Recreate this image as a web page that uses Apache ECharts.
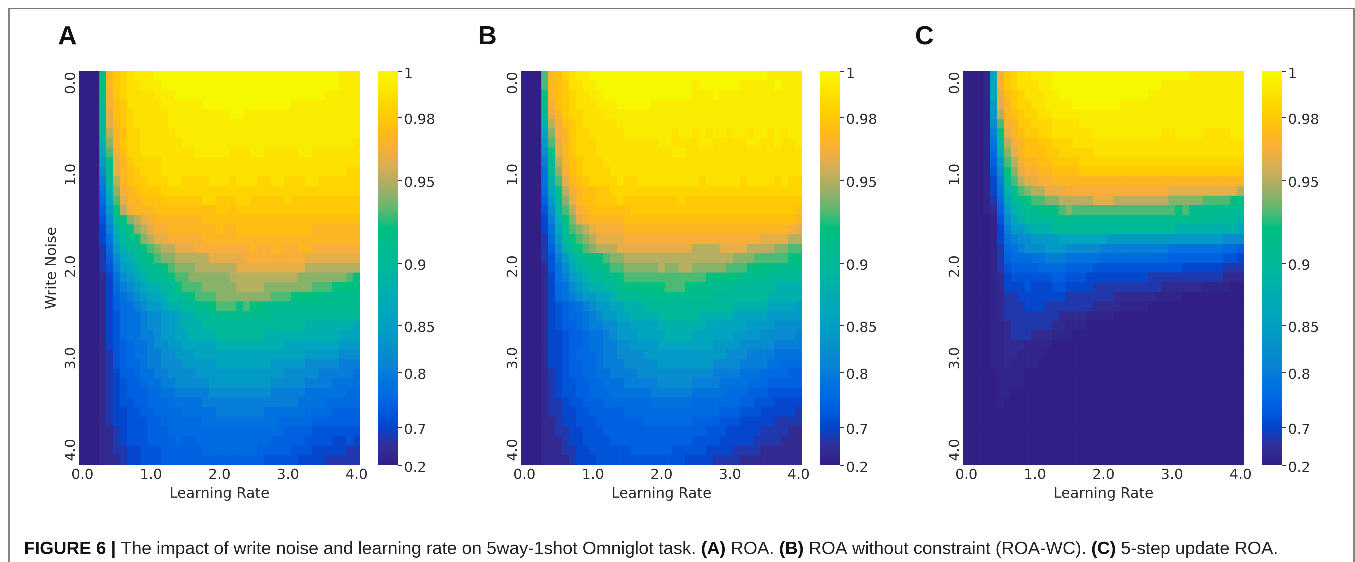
<!DOCTYPE html>
<html><head><meta charset="utf-8">
<style>html,body{margin:0;padding:0;background:#fff}#c{width:1355px;height:562px;filter:blur(0.4px)}</style>
<script src="https://cdn.jsdelivr.net/npm/echarts@6/dist/echarts.min.js"></script>
</head><body><div id="c"></div>
<script>
var panelLetters = ['A','B','C'];
var learningRates = ['0.0','0.1','0.2','0.3','0.4','0.5','0.6','0.7','0.8','0.9','1.0','1.1','1.2','1.3','1.4','1.5','1.6','1.7','1.8','1.9','2.0','2.1','2.2','2.3','2.4','2.5','2.6','2.7','2.8','2.9','3.0','3.1','3.2','3.3','3.4','3.5','3.6','3.7','3.8','3.9','4.0'];
var writeNoises = learningRates.slice();
var noiseTicks = [0,1,2,3,4];
var barTickValues = [0.2,0.7,0.8,0.85,0.9,0.95,0.98,1];
var barTickLabels = ['0.2','0.7','0.8','0.85','0.9','0.95','0.98','1'];
var barTickPos = [0,0.0964,0.236,0.355,0.513,0.723,0.883,1];
var levelCodes = 'abcdefghijklmnopqrstuvwxyzABC';
var levelAccuracy = [0.2,0.35,0.55,0.7,0.72,0.74,0.76,0.78,0.8,0.82,0.84,0.86,0.88,0.9,0.91,0.92,0.93,0.94,0.95,0.96,0.965,0.97,0.975,0.98,0.985,0.99,0.995,1,0.27];
var scaleColors = ['#311f85','#32309a','#0048d0','#0060e0','#0070e0','#0a84d4','#0790cc','#02a0c4','#00a8bc','#00b0ac','#00b89c','#00bc90','#00c080','#60b870','#a0ae66','#d0ae58','#f8ae3c','#ffbc14','#ffd000','#fde400','#f6f800'];

var rowsA = [
'aaapv xyzAA ABBBB BBBBB BBBBB BBBBB BBBBB BBBAA A',
'aaapv xyzzA AABBB BBBBB BBBBB BBBBB BBBBB BBBAA A',
'aaapu xyzzz zAAAB BBBBB BBBBB BBBBB BBBBB BAAAA A',
'aaaou wxzzz zzAAA AAABB BBBBB BBBBB BAAAA AAAAA A',
'aaant wxyzz zzzAA AAAAA AABBA AAAAA AAAAA AAAAA A',
'aaant vxyzz zzzAA AAAAA AAAAA AAAAA AAAAA AAAAA A',
'aaans vwyyz zzzzA AAAAA AAAAA AAAAA AAAAA AAAAA A',
'aaamr vxyyz zzzzz AAAAA AAAAA AAAAA AAAAA AAAAA z',
'aaalq uwyyz zzzzz zzAAA AAzzz AAzzz zzAAz zzzzz z',
'aaakp tvxyy yyzzz zzzzz zzzzz zzzzz zzzzz zzzzz z',
'aaajo tvwxy yyzzz zzzzz zzzzz zzzzz zzzzz zzzzy y',
'aaain svwxx yyyzz yyyyz zzyzz zyyzz yyyzz yyyyy y',
'aaahm ruvwx xxyyy yyyyy yyyyy yyyyy yyyyy yyyyy y',
'aaagl qtvvw wwxxx xxxyy xxxyy xxxxx yxxxx xxxxx x',
'aaafk psuvv vwwww wwwww xxwxx xxxxx xxxxx xxxxx x',
'aaaej nprst uvvvv vvvww wwwww wwwww wwwww wwwww w',
'aaadi moprs tuuvv vvvvv wvvww wwwww wwwwv vvvvv v',
'aaadh lnopr sttuu uuuvv vvvvv vvvvv vvvvv vvvvv v',
'aaacg kmnop qrsst ttuuu uuuuu vuuvv uuvvu uuuuu u',
'aaacf jlmno pqrrs sssst ttttu uuuuu uuutt ttttt t',
'aaace iklmn oopqr rrsss ssstt ttttt tttss sssss s',
'aaabd hjklm nnopq qrrrr rrsss sssss ssrrr rrrrq p',
'aaabd gijkl mmnnp qqqrr rrrss ssrrr rrrrq qqppp p',
'aaabd fhijk llmnn opqqq rrrrr rrrqq qpppp ooooo o',
'aaabd fghij kklmm nnoop qqqpq ppooo ooooo ooooo o',
'aaabd eghhi jjkkl mmnnn ooooo ooonn nnnnn nnnnn n',
'aaabd eghhi jjkkl mmmnn nnnnn nnnnn nnnmm mmmmm l',
'aaabd eghhi ijkkl lmmmm nnnnn nnmmm mmmmm mmmll l',
'aaabd efghh ijjkk lllll mmmmm mmmmm lllll lllkk k',
'aaabc efghh iijjk kklll lllll lllll lllkk kkkjj j',
'aaabc efggh iijjj kkkkk lllll lllkk kkkjj jjjii i',
'aaabc dffgh hiijj jjkkk kkkkk kkkkk jjjjj iiiii h',
'aaabc deffg hhiij jjjjk kkkkk kkkjj jjjii iihhh h',
'aaabc defff gghhi iiiij jjjjj jjjii iiihh hhhhg g',
'aaabc deeff ggghh hhhii iiiii iiiii iihhh hgggg g',
'aaabc ddeef fgggg hhhhh iiiii iihhh hhhgg ggfff f',
'aaabc ddeee ffggg ggghh hhhhh hhhhg ggggf fffff f',
'aaabb cdeee fffgg ggggg ggggg ggggg ffffe eeeee e',
'aaabb cdeee ffffg ffggg ggggg gggff fffee eedde d',
'aaabb ccdde eefff fffgg ggggg gffff feeed ddddc c',
'aaabb bcdde eefff fffff fffff ffeee eeddd dcccc c'
];
var rowsB = [
'aaaqv wyzAA BBBBB BBBBB BBBBB BBBBB BBBBB BAAAA A',
'aaaqv wxzzA ABBBB BBBBB BBBBB ABBBB BBAAA AABAA A',
'aaapv wxyzz AABBB BBBBB BBBBB AAABA AAAAA AAAAA A',
'aaaou wxyzz zAAAB BBBBA AAAAA AAAAA AAAAA AAAAA A',
'aaant vxyyz zzAAA AAAAA AAAAA AAAAA AAAAA AAAAA A',
'aaams uwxyz zzzzA AAAAA AAAAA AAAAA AAAAA AAAAA A',
'aaalr uvxyy zzzzz AAAAA AAzAA zAzAA zAAzA AzAzA A',
'aaakq tvxyy yzzzz zzzzz AAzzz zAAzz zzzAA zzAzz A',
'aaajp tvxyy yzzzz zzzzz zzAAz zzzzz zzzzz zzzzz z',
'aaaio svwxy yyzzz zzzzz zzzzz zzzzz zzzzz zzzzz z',
'aaahn ruwxy yyyzz zzzzz zzzzz zzzzz zzzzz zzzzz z',
'aaahm qtvwx yyyyz yyzzz zzzzz zyzzz zzyzz zzyzy y',
'aaagl psuvw wxxyy yyyyy yyyyy yyyyy yyyyy yyyyy y',
'aaafk ortvw wxxxy xxxxx xxxyx xxxxx xxxxx xxxxx x',
'aaaej nqsuv wwwww wxxxx xxxxx xxxxx xxxxx xxxxx w',
'aaadi mprtu vvvvv wwwww wwwww wwwww wwwww wwwww v',
'aaadh loqrs tuuuu vvvvv vvvvv vvvvv vvvvv vvvvu t',
'aaacg knpqr stttt uuuuu uuuuu uuuuu uuuuu tttts s',
'aaacf jmopq rssst ttttt ttttt sssst tttss ssrrq q',
'aaace ikmno ppqrr sssss sssss sssss srrrq qqqqp p',
'aaabe hjlmn oopqq rrrrr srrss rrrrr qqqpp ppooo o',
'aaabd hiklm nnoop qqqqq qqqqq qqppp ppooo onnnn n',
'aaabd ghjkl mmnno ppppp pqqqp poooo onnnn nnmmm m',
'aaabd ghijk kllmn nnooo ooooo ooonn nnnnn nmmmm m',
'aaabd efghi jkkll mmmnn nnnnn nnnnn nmmmm mllll k',
'aaabd efggh ijkkl lmmmm nnnnn nmmmm mllll lkkkk k',
'aaabd effgh iijjk kllll mmmmm mmlll lllkk kkjjj j',
'aaabd deffg hhijk kklll lmmmm lllll lkkkk jjjjj i',
'aaabd deffg hhiij jkkkk lllll lllkk kkjjj jjiii i',
'aaabd defgg ghiij jjjkk kkkkk kkkkk jjjii iihhh h',
'aaabd deffg ghiii jjjjj kkkkk kkkjj jjiii ihhgg g',
'aaabc deffg ghhii iijjj jjjjj jjjii iihhh ggggf f',
'aaabc deeff gghhh iiiii jjjjj iiiih hhhgg gffff f',
'aaabc deeff ggghh hhhhi iiiii hhhhh gggff feeee e',
'aaabc cdeef ffggg ggggh hhhhh ggggg ggffe eeddd d',
'aaabc cddee fffff ggggg ggggg ggggf ffeee ddddd c',
'aaabb cddee effff fffgg ggggg ffffe eeddd ddccc c',
'aaabb ccdde eefff fffff fffff ffeee ddddd ccccb b',
'aaabb bcdde eeeff fffff fffff eeeed ddddc cccbb b',
'aaabb bccdd eeeee effff ffeee eeddd dcccc bbbbb b',
'aaabb bbcdd deeee eeeee eeeed dddcc ccbbb bbbbb b'
];
var rowsC = [
'aaaCl uxyzz AAABB BBBBB BBBBB BBBBB BBBAA AAAAA A',
'aaaCl uxyzz zAABB BBBBB BBBBB BBBBA AAAAA AAAAA A',
'aaaCl twxyz zzAAB BBBBB BBBBB BBAAA AAAAA AAAAA A',
'aaaCk tvxyy zzAAA ABBBB BBBAA AAAAA AAAAA AAAAA A',
'aaaCk svwxy yzzAA AAAAA AAAAA AAAAA AAAAA AAAAA A',
'aaaCj quvxx yyyzz zzAAA AAAAA AAAAA AAAAA AAAAA A',
'aaaCi ptvwx xyyzz zzzzA AAAAA AAAAz zAAAA zzzzA A',
'aaaCh nsuvw wxxyy yzzzz zzzzz zzzzz zzzzz zzzzz z',
'aaaCg mrtvw wwxxy yyyyz zzzzz zzzzz zzzzz zzzzz z',
'aaaCf kqsuv vwwxx xxyyy yyyyy yyyyy yyyyy yyyyy y',
'aaaCe jprtu uvvww wwxxx xxxxx xxxxx xxxxx xxxxx x',
'aaaCd inqst tuuvv vvvvv vvvvv vvvvv vvvvv vvvvv v',
'aaaCd hmoqr ssttt uuuuu uuuuu uuuuu ttttt ttttt s',
'aaaCc glnop qqrrs sssst ttsss sssss rrrrr qqqqp p',
'aaaCb fkmno opppq rqqqq qqqqq qqqqq qpqoo oooon o',
'aaaaC ejlmn nnnoo ooooo ooooo ooooo ooooo nnnnn m',
'aaaaC dikkl mmmnn nnnnn nnnnn nnnnn nmmmm mmmmm l',
'aaaaC dhijj kkkkl lllll lkkkk kkkkk kkkkk kkkjj j',
'aaaaC cghij jjkkk jjjjj iiiii iiiii hhhhh hhhgg f',
'aaaaC cfggg hhiii hhhhh ggggg ggggg fffff fffee d',
'aaaaC cefff fgggg ffffe eeeee eeeee eeddd dddcc c',
'aaaaC bdeee eeeff eeedd ddddd ddccc ccccc cccbb b',
'aaaaC bddde dddee ddddc ccccc ccccb bbbbb CCCCa a',
'aaaaC bccdd ddddd ccccc ccbbb bbbCC CCaaa aaaaa a',
'aaaaC bcccd ddccc ccccb bbbCC CCaaa aaaaa aaaaa a',
'aaaaC bcccc ccccb bbbCC CCaaa aaaaa aaaaa aaaaa a',
'aaaaC Cbccc cccbb CCCaa aaaaa aaaaa aaaaa aaaaa a',
'aaaaC Cbccc bbbCC Caaaa aaaaa aaaaa aaaaa aaaaa a',
'aaaaC CbbbC CCCaa aaaaa aaaaa aaaaa aaaaa aaaaa a',
'aaaaC CbbCC CCaaa aaaaa aaaaa aaaaa aaaaa aaaaa a',
'aaaaC CbCCC Caaaa aaaaa aaaaa aaaaa aaaaa aaaaa a',
'aaaaa CCCCa aaaaa aaaaa aaaaa aaaaa aaaaa aaaaa a',
'aaaaa CCCCa aaaaa aaaaa aaaaa aaaaa aaaaa aaaaa a',
'aaaaa CCaaa aaaaa aaaaa aaaaa aaaaa aaaaa aaaaa a',
'aaaaa Caaaa aaaaa aaaaa aaaaa aaaaa aaaaa aaaaa a',
'aaaaa aaaaa aaaaa aaaaa aaaaa aaaaa aaaaa aaaaa a',
'aaaaa aaaaa aaaaa aaaaa aaaaa aaaaa aaaaa aaaaa a',
'aaaaa aaaaa aaaaa aaaaa aaaaa aaaaa aaaaa aaaaa a',
'aaaaa aaaaa aaaaa aaaaa aaaaa aaaaa aaaaa aaaaa a',
'aaaaa aaaaa aaaaa aaaaa aaaaa aaaaa aaaaa aaaaa a',
'aaaaa aaaaa aaaaa aaaaa aaaaa aaaaa aaaaa aaaaa a'
];
var panelRows = [rowsA, rowsB, rowsC];

// layout (pixels)
var heatLeft = [79, 521, 963], heatWidth = 281, plotTop = 71, plotHeight = 394;
var barLeft = [378, 820, 1262], barWidth = 20;
var letterLeft = [53, 473, 910];
var textColor = '#2a2a2a', tickFont = 'DejaVu Sans';
var noiseMin = -0.1308, noiseMax = 4.1635;

// colour-bar position of an accuracy value (the bar's scale is piecewise)
function barPosition(acc) {
  for (var i = 1; i < barTickValues.length; i++) {
    if (acc <= barTickValues[i]) {
      var t = (acc - barTickValues[i-1]) / (barTickValues[i] - barTickValues[i-1]);
      return barTickPos[i-1] + t * (barTickPos[i] - barTickPos[i-1]);
    }
  }
  return 1;
}
function cellsOf(rows) {
  var out = [];
  rows.forEach(function (s, r) {
    s.replace(/ /g, '').split('').forEach(function (ch, c) {
      out.push([c, r, barPosition(levelAccuracy[levelCodes.indexOf(ch)])]);
    });
  });
  return out;
}
var barSteps = [], barCells = [];
for (var k = 0; k < 197; k++) { barSteps.push(String(k)); barCells.push([0, k, (k + 0.5) / 197]); }

var grids = [], xAxes = [], yAxes = [], series = [], titles = [];
panelRows.forEach(function (rows, i) {
  var g = grids.length;
  grids.push({left: heatLeft[i], top: plotTop, width: heatWidth, height: plotHeight});
  xAxes.push({type: 'category', gridIndex: g, data: learningRates, position: 'bottom',
    axisLine: {show: false}, axisTick: {show: false}, splitLine: {show: false},
    axisLabel: {interval: 9, margin: 3, color: textColor, fontFamily: tickFont, fontSize: 14, hideOverlap: false},
    name: 'Learning Rate', nameLocation: 'middle', nameGap: 20,
    nameTextStyle: {color: textColor, fontFamily: tickFont, fontSize: 14.4}});
  var yHeat = yAxes.length;
  yAxes.push({type: 'category', gridIndex: g, data: writeNoises, inverse: true, show: false});
  yAxes.push({type: 'value', gridIndex: g, inverse: true, min: noiseMin, max: noiseMax, position: 'left',
    axisLine: {show: false}, axisTick: {show: false}, splitLine: {show: false},
    axisLabel: {customValues: noiseTicks, rotate: 90, margin: 1, color: textColor, fontFamily: tickFont, fontSize: 14,
      formatter: function (v) { return Number(v).toFixed(1); }},
    name: i === 0 ? 'Write Noise' : '', nameLocation: 'middle', nameGap: 20, nameRotate: 90,
    nameTextStyle: {color: textColor, fontFamily: tickFont, fontSize: 14.4}});
  series.push({type: 'heatmap', xAxisIndex: g, yAxisIndex: yHeat, data: cellsOf(rows), progressive: 0, animation: false,
    itemStyle: {borderWidth: 0}, emphasis: {disabled: true}});
  titles.push({text: panelLetters[i], left: letterLeft[i], top: 19,
    textStyle: {fontFamily: 'Liberation Sans', fontWeight: 'bold', fontSize: 26, color: '#111'}});
});
panelRows.forEach(function (rows, i) {
  var g = grids.length;
  grids.push({left: barLeft[i], top: plotTop, width: barWidth, height: plotHeight});
  xAxes.push({type: 'category', gridIndex: g, data: ['bar'], show: false});
  var yBar = yAxes.length;
  yAxes.push({type: 'category', gridIndex: g, data: barSteps, show: false});
  yAxes.push({type: 'value', gridIndex: g, show: true, min: 0, max: 1, position: 'right', z: 5,
    axisLine: {show: false}, splitLine: {show: false},
    axisTick: {show: true, length: 4, customValues: barTickPos, lineStyle: {color: '#333', width: 1}},
    axisLabel: {customValues: barTickPos, margin: 6, verticalAlign: 'top', lineHeight: 6, color: textColor, fontFamily: tickFont, fontSize: 14,
      formatter: function (v) {
        var idx = barTickPos.indexOf(Number(v));
        return idx >= 0 ? barTickLabels[idx] : '';
      }}});
  series.push({type: 'heatmap', xAxisIndex: g, yAxisIndex: yBar, data: barCells, progressive: 0, animation: false,
    itemStyle: {borderWidth: 0}, emphasis: {disabled: true}});
});
titles.push({
  text: '{b|FIGURE 6 |} The impact of write noise and learning rate on 5way-1shot Omniglot task. {b|(A)} ROA. {b|(B)} ROA without constraint (ROA-WC). {b|(C)} 5-step update ROA.',
  left: 19, top: 535,
  textStyle: {fontFamily: 'Liberation Sans', fontSize: 17.8, fontWeight: 'normal', color: '#222',
    rich: {b: {fontFamily: 'Liberation Sans', fontSize: 17.8, fontWeight: 'bold', color: '#111'}}}
});

var chart = echarts.init(document.getElementById('c'), null, {renderer: 'canvas', devicePixelRatio: 4});
chart.setOption({
  animation: false, backgroundColor: '#fff',
  title: titles, grid: grids, xAxis: xAxes, yAxis: yAxes, series: series,
  visualMap: {type: 'continuous', show: false, min: 0, max: 1, dimension: 2, seriesIndex: [0,1,2,3,4,5],
    inRange: {color: scaleColors}},
  graphic: [
    {type: 'polyline', silent: true, shape: {points: [[9, 562], [9, 8.5], [1354, 8.5], [1354, 562]]},
     style: {stroke: '#777', lineWidth: 1.4, fill: 'none'}}
  ]
});
</script></body></html>
